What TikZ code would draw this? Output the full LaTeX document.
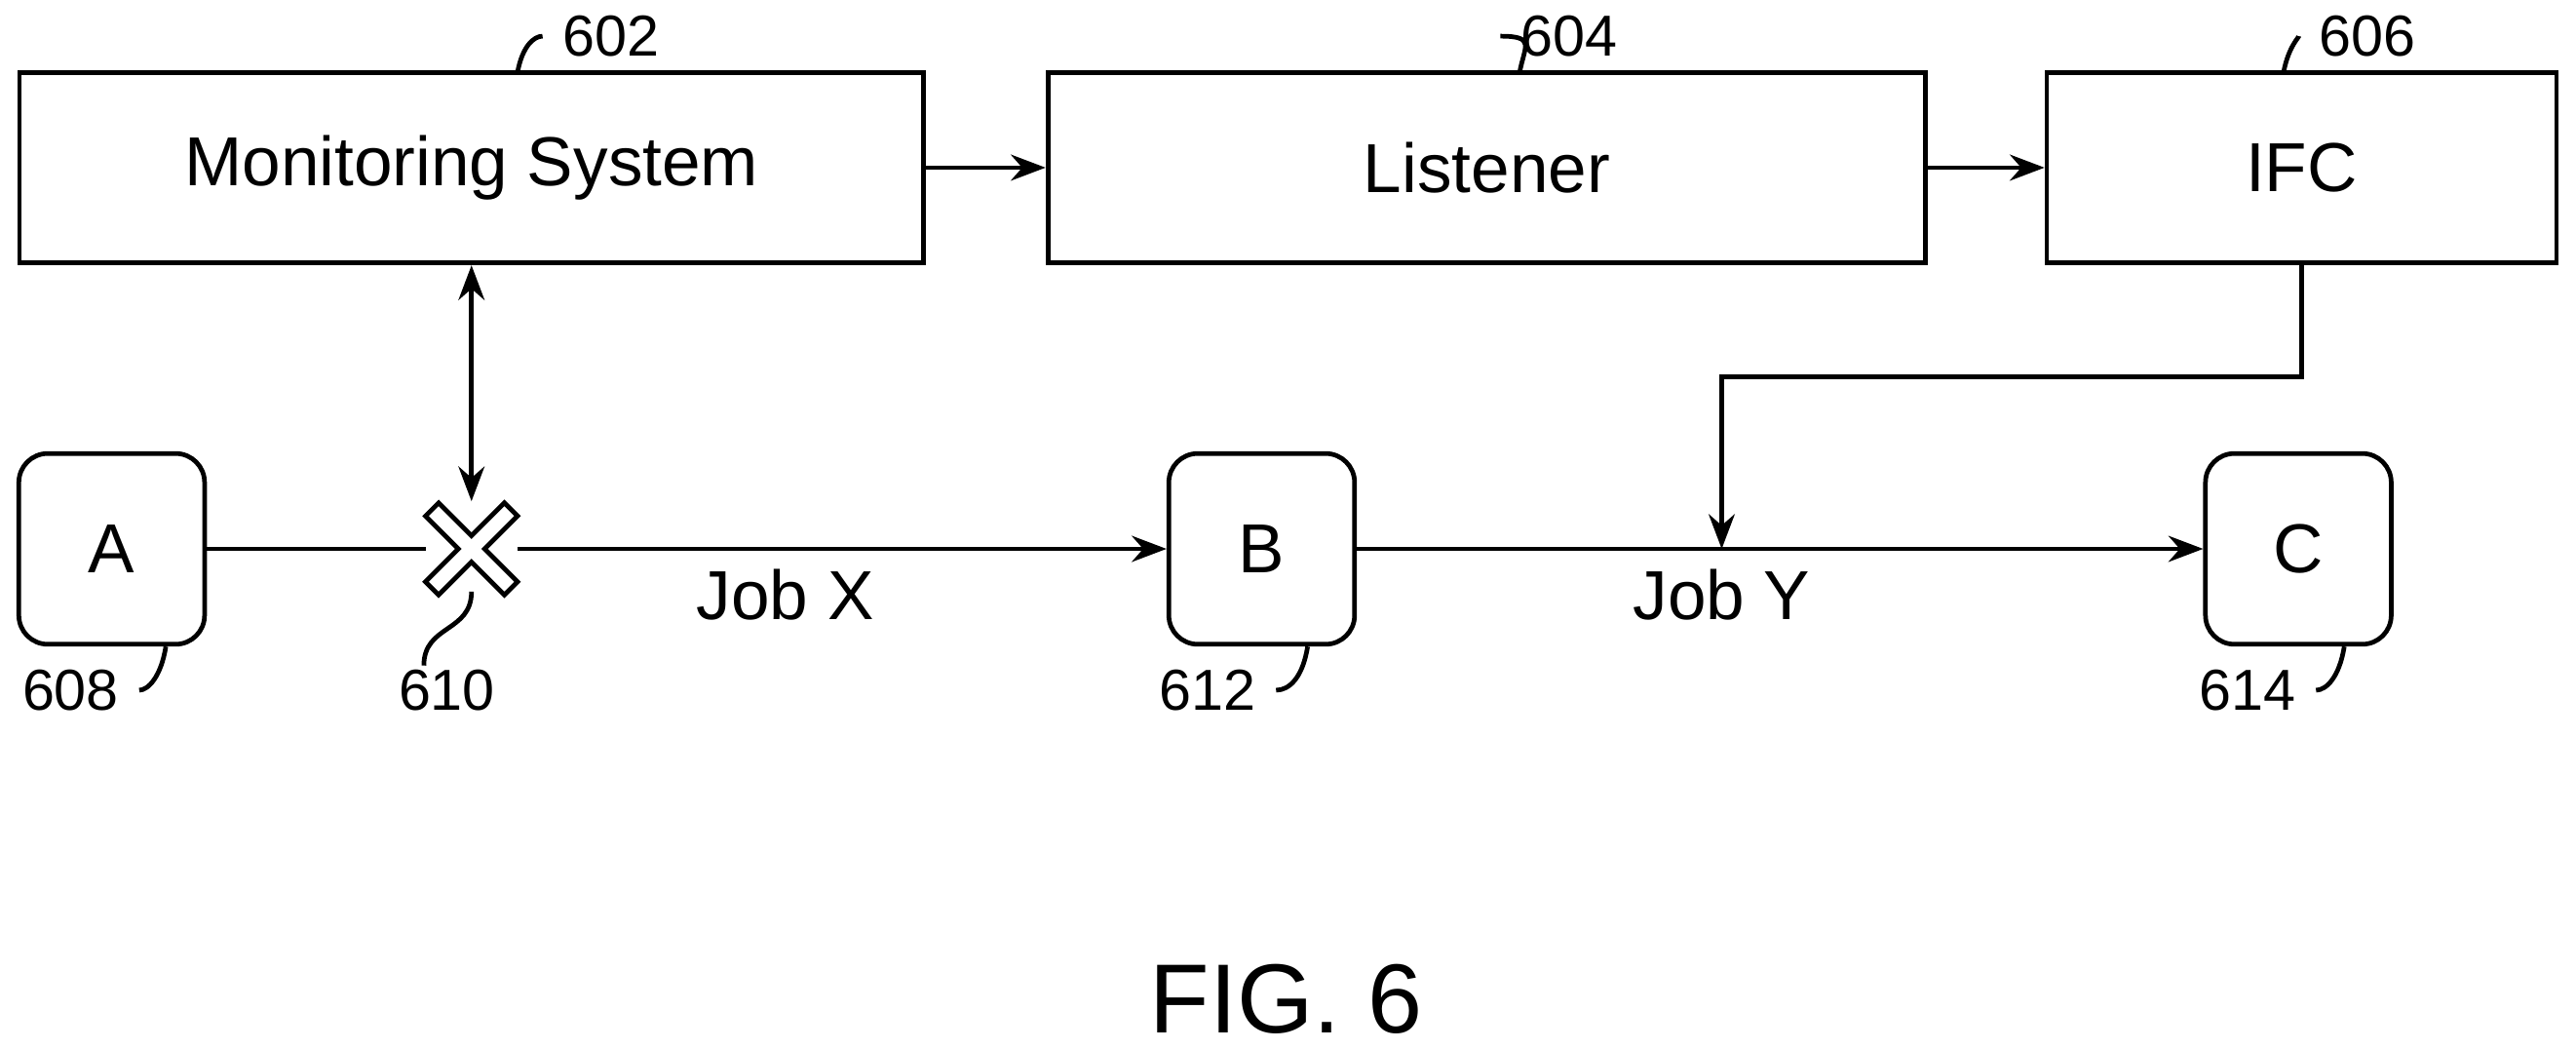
\documentclass[tikz,border=0pt]{standalone}
\usepackage{fontspec}
\setmainfont{Liberation Sans}
\usetikzlibrary{arrows.meta}
\begin{document}
\begin{tikzpicture}[
    x=0.01cm, y=-0.01cm,
    box/.style={rectangle, draw, thick, minimum height=1.16cm, font=\fontsize{12}{14}\selectfont},
    job/.style={rectangle, draw, thick, rounded corners=5pt, minimum width=1.13cm, minimum height=1.16cm, font=\fontsize{12}{14}\selectfont},
    num/.style={font=\fontsize{10}{12}\selectfont},
    arrow/.style={-{Stealth[length=6pt]}, thick},
    lead/.style={thick}
]
\useasboundingbox (0,0) rectangle (1568,638);

% Top row
\node[box, minimum width=5.50cm] (mon) at (287,102) {Monitoring System};
\node[box, minimum width=5.34cm] (lis) at (905,102) {Listener};
\node[box, minimum width=3.10cm] (ifc) at (1401,102) {IFC};

% Jobs
\node[job] (A) at (68,334) {A};
\node[job] (B) at (768,334) {B};
\node[job] (C) at (1399,334) {C};

% Cross
\coordinate (x) at (287,334);
\draw[thick, fill=white] (x) ++(-28,-20) -- ++(8,-8) -- ++(20,20) -- ++(20,-20) -- ++(8,8) -- ++(-20,20)
  -- ++(20,20) -- ++(-8,8) -- ++(-20,-20) -- ++(-20,20) -- ++(-8,-8) -- ++(20,-20) -- cycle;
\coordinate (xtop) at (287,305);

% Connections
\draw[arrow] (mon) -- (lis);
\draw[arrow] (lis) -- (ifc);
\draw[{Stealth[length=6pt]}-{Stealth[length=6pt]}, thick] (mon.south -| xtop) -- (xtop);
\draw[thick] (A) -- (259,334);
\draw[arrow] (315,334) -- (B);
\draw[arrow] (B) -- (C);
\coordinate (jy) at (1048,334);
\draw[arrow] (ifc.south) -- ++(0,68) -| (jy);

\node[font=\fontsize{12}{14}\selectfont] (jobx) at (478,362) {Job X};
\node[font=\fontsize{12}{14}\selectfont] (joby) at (1048,362) {Job Y};

% Reference numerals
\node[num] (n602) at (372,22) {602};
\draw[lead] (315,44) .. controls (318,28) and (325,22) .. (n602.west);
\node[num] (n604) at (955,22) {604};
\draw[lead] (925,44) .. controls (928,28) and (935,22) .. (n604.west);
\node[num] (n606) at (1441,22) {606};
\draw[lead] (1390,44) .. controls (1393,28) and (1400,22) .. (n606.west);
\node[num] (n608) at (43,420) {608};
\draw[lead] (A.south east) ++(-25,0) .. controls (98,412) and (90,420) .. (n608.east);
\node[num] (n610) at (272,420) {610};
\draw[lead] (287,360) .. controls (287,385) and (258,380) .. (258,405);
\node[num] (n612) at (735,420) {612};
\draw[lead] (B.south east) ++(-30,0) .. controls (793,412) and (785,420) .. (n612.east);
\node[num] (n614) at (1368,420) {614};
\draw[lead] (C.south east) ++(-30,0) .. controls (1424,412) and (1416,420) .. (n614.east);

\node[font=\fontsize{17}{20}\selectfont] (fig) at (783,608) {FIG. 6};
\end{tikzpicture}
\end{document}
